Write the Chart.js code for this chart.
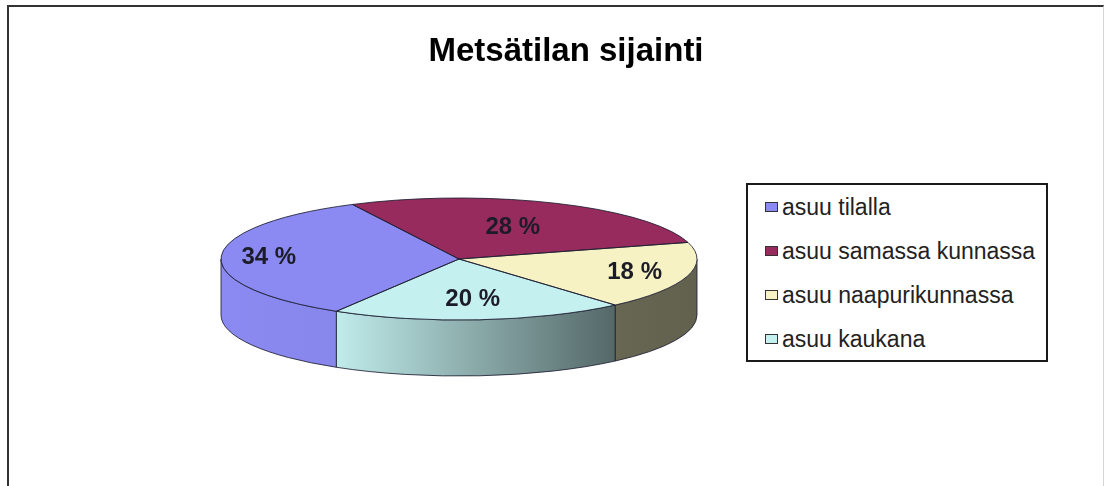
<!DOCTYPE html>
<html>
<head>
<meta charset="utf-8">
<script src="https://cdn.jsdelivr.net/npm/chart.js@4.4.1/dist/chart.umd.min.js"></script>
<style>
  body { margin: 0; background: #fff; }
  #wrap { position: relative; width: 1107px; height: 486px; overflow: hidden; }
  #frame { position: absolute; left: 7px; top: 5px; width: 1094px; height: 500px;
           border-top: 2px solid #333; border-left: 2px solid #333; border-right: 1px solid #d4d4d4;
           pointer-events: none; }
  #legend { position: absolute; left: 746px; top: 183px; width: 302px; height: 179px;
            box-sizing: border-box; border: 2px solid #1a1a1a; background: #fff;
            font: 23px "Liberation Sans", Arial, sans-serif; color: #222; }
  #legend .item { height: 44px; display: flex; align-items: center; padding-left: 17px; white-space: nowrap; }
  #legend .box { width: 11px; height: 8px; border: 1px solid #333; margin-right: 4px; }
</style>
</head>
<body>
<div id="wrap">
  <canvas id="chart" width="1107" height="486"></canvas>
  <div id="frame"></div>
  <div id="legend"></div>
</div>
<script>
var title = 'Metsätilan sijainti';
var categories = ['asuu tilalla', 'asuu samassa kunnassa', 'asuu naapurikunnassa', 'asuu kaukana'];
var shares = [34, 28, 18, 20];
var pctLabels = shares.map(v => v + ' %');

// colour times a shade factor
function shade(hex, f) {
    var n = parseInt(hex.slice(1), 16);
    var r = Math.round(((n >> 16) & 255) * f), g = Math.round(((n >> 8) & 255) * f), b = Math.round((n & 255) * f);
    return 'rgb(' + r + ',' + g + ',' + b + ')';
}

// side wall fill: lit on the left, dark on the right
function sideFill(ctx, o, base) {
    var grad = ctx.createLinearGradient(o.cx - o.rx, 0, o.cx + o.rx, 0);
    grad.addColorStop(0, shade(base, 1.0));
    grad.addColorStop(0.25, shade(base, 0.97));
    grad.addColorStop(0.84, shade(base, 0.42));
    grad.addColorStop(1, shade(base, 0.40));
    return grad;
}

var pie3d = {
    id: 'pie3d',
    beforeDatasetsDraw: function (chart, args, o) {
        var ctx = chart.ctx;
        var arcs = chart.getDatasetMeta(0).data;
        var p = arcs[0].getProps(['x', 'y', 'outerRadius'], true);
        // walls, only the front half is visible
        arcs.forEach(function (arc) {
            var a = arc.getProps(['startAngle', 'endAngle'], true);
            for (var k = -1; k <= 2; k++) {
                var lo = Math.max(a.startAngle, 2 * Math.PI * k);
                var hi = Math.min(a.endAngle, 2 * Math.PI * k + Math.PI);
                if (hi <= lo) continue;
                ctx.beginPath();
                ctx.ellipse(o.cx, o.cy, o.rx, o.ry, 0, lo, hi);
                ctx.ellipse(o.cx, o.cy + o.depth, o.rx, o.ry, 0, hi, lo, true);
                ctx.closePath();
                ctx.fillStyle = sideFill(ctx, o, arc.options.backgroundColor);
                ctx.fill();
                ctx.strokeStyle = o.edge;
                ctx.lineWidth = 1;
                ctx.stroke();
            }
        });
        // squash the flat pie into the top ellipse
        ctx.save();
        ctx.translate(o.cx, o.cy);
        ctx.scale(o.rx / p.outerRadius, o.ry / p.outerRadius);
        ctx.translate(-p.x, -p.y);
    },
    afterDatasetsDraw: function (chart, args, o) {
        var ctx = chart.ctx;
        ctx.restore();
        var arcs = chart.getDatasetMeta(0).data;
        ctx.save();
        ctx.strokeStyle = o.edge;
        ctx.lineWidth = 1;
        arcs.forEach(function (arc) {
            var a = arc.getProps(['startAngle', 'endAngle'], true);
            ctx.beginPath();
            ctx.moveTo(o.cx, o.cy);
            ctx.ellipse(o.cx, o.cy, o.rx, o.ry, 0, a.startAngle, a.endAngle);
            ctx.closePath();
            ctx.stroke();
        });
        ctx.fillStyle = o.labelColor;
        ctx.font = o.labelFont;
        ctx.textAlign = 'center';
        ctx.textBaseline = 'middle';
        arcs.forEach(function (arc, i) {
            var a = arc.getProps(['startAngle', 'endAngle'], true);
            var mid = (a.startAngle + a.endAngle) / 2;
            var f = o.labelRadius[i];
            ctx.fillText(pctLabels[i], o.cx + o.rx * f * Math.cos(mid), o.cy + o.ry * f * Math.sin(mid));
        });
        ctx.restore();
    }
};

var ctx = document.getElementById('chart').getContext('2d');
var chart = new Chart(ctx, {
    type: 'pie',
    data: {
        labels: categories,
        datasets: [{
            data: shares,
            backgroundColor: ['#8a8af2', '#982b5e', '#f6f2c4', '#c4f1f0'],
            borderWidth: 0,
            clip: false
        }]
    },
    options: {
        responsive: false,
        animation: false,
        rotation: 211,
        layout: { padding: { left: 25, right: 0 } },
        plugins: {
            legend: { display: false },
            tooltip: { enabled: false },
            title: {
                display: true,
                text: title,
                color: '#000',
                font: { family: "'Liberation Sans', Arial, sans-serif", size: 33, weight: 'bold' },
                padding: { top: 32, bottom: 10 }
            },
            pie3d: {
                cx: 459, cy: 259, rx: 238, ry: 61, depth: 56,
                edge: 'rgba(30,30,50,0.85)',
                labelColor: '#1c1c28',
                labelFont: "bold 24px 'Liberation Sans', Arial, sans-serif",
                labelRadius: [0.8, 0.56, 0.77, 0.66]
            }
        }
    },
    plugins: [pie3d]
});

// html legend from the chart's own legend items
var legendEl = document.getElementById('legend');
chart.options.plugins.legend.labels.generateLabels(chart).forEach(function (item) {
    var row = document.createElement('div');
    row.className = 'item';
    var box = document.createElement('span');
    box.className = 'box';
    box.style.background = item.fillStyle;
    row.appendChild(box);
    row.appendChild(document.createTextNode(item.text));
    legendEl.appendChild(row);
});
</script>
</body>
</html>
